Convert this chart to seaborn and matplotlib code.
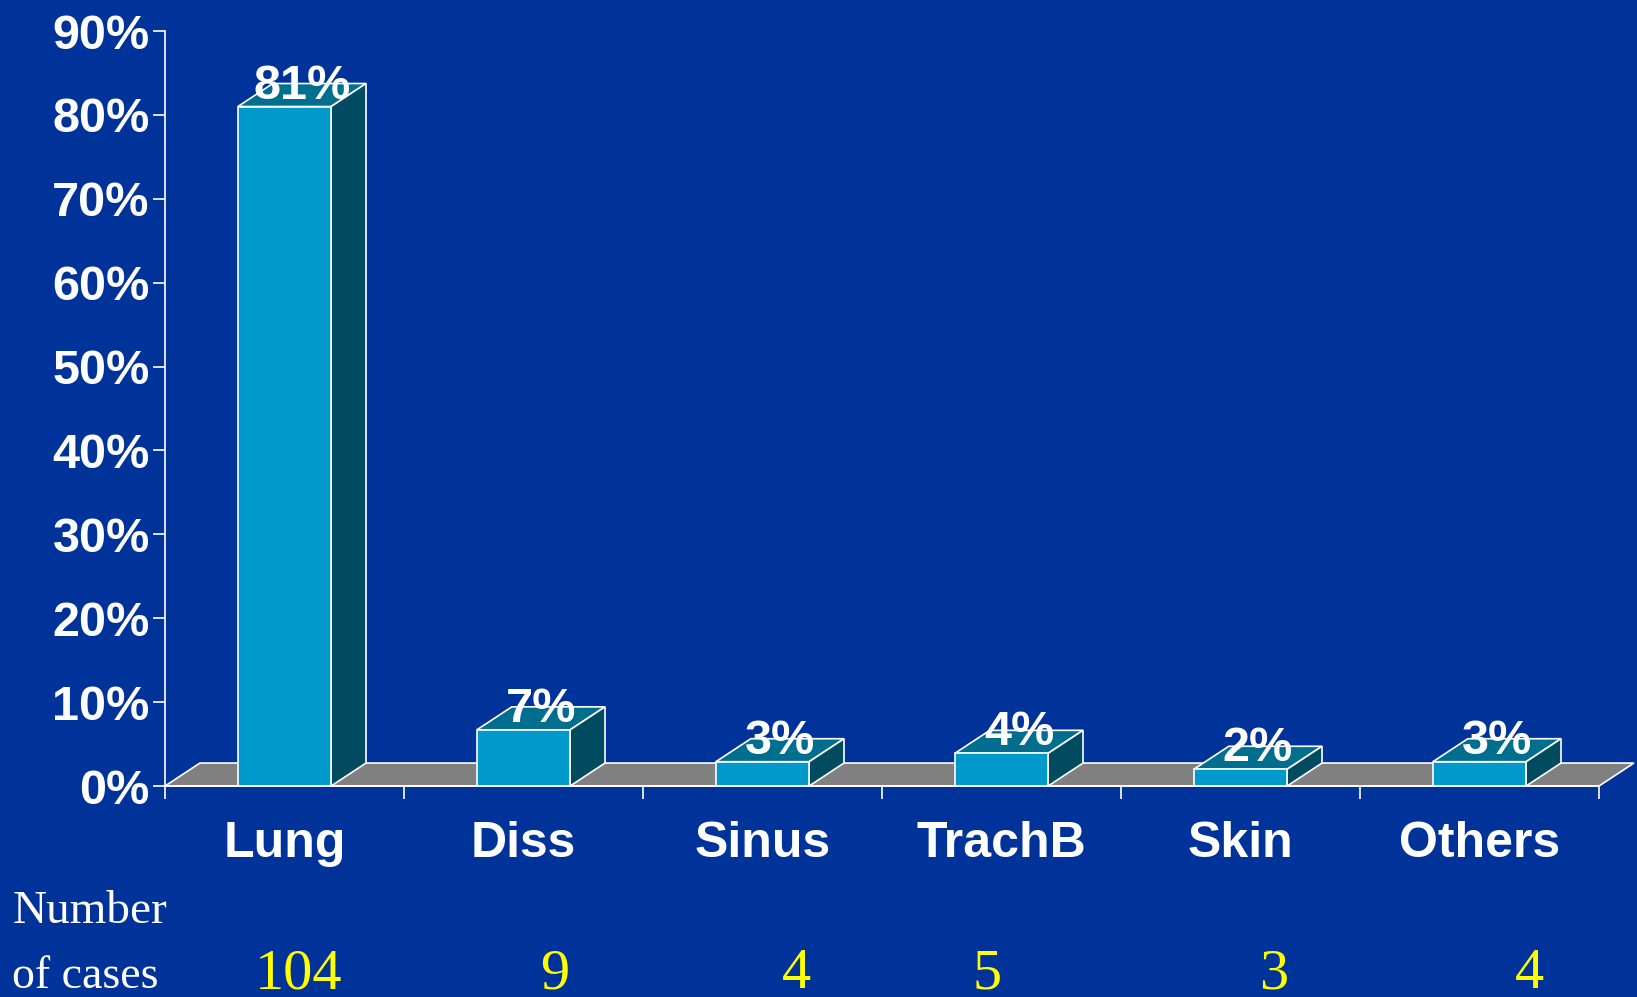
import numpy as np
import pandas as pd
import seaborn as sns
import matplotlib.pyplot as plt
from matplotlib.patches import Polygon
from matplotlib.transforms import blended_transform_factory

# data
sites = ['Lung', 'Diss', 'Sinus', 'TrachB', 'Skin', 'Others']
percent = [81.0, 6.7, 2.9, 3.9, 2.0, 2.9]
percent_labels = ['81%', '7%', '3%', '4%', '2%', '3%']
n_cases = ['104', '9', '4', '5', '3', '4']
yticks = [0, 10, 20, 30, 40, 50, 60, 70, 80, 90]

# layout / style
BG = '#00339a'
FRONT = '#0099cc'
TOP = '#006e8f'
SIDE = '#004b60'
FLOOR = '#808080'
DX, DY = 0.146, 2.74          # fake 3d depth, in data units
count_shift = [0.06, 0.13, 0.14, -0.06, 0.14, 0.21]

sns.set_theme(style='white')
plt.rcParams['font.family'] = ['Liberation Sans', 'DejaVu Sans']

fig = plt.figure(figsize=(16.37, 9.97), dpi=100, facecolor=BG)
ax = fig.add_axes([0.1008, 0.2116, 0.876, 0.7573])
ax.set_facecolor('none')

df = pd.DataFrame({'site': sites, 'pct': percent})
sns.barplot(data=df, x='site', y='pct', color=FRONT, saturation=1,
            width=0.39, edgecolor='white', linewidth=1.2, ax=ax, zorder=5)

# floor
floor = Polygon([(-0.5, 0), (5.5, 0), (5.5 + DX, DY), (-0.5 + DX, DY)],
                closed=True, facecolor=FLOOR, edgecolor='white', lw=1.2,
                zorder=1, clip_on=False)
ax.add_patch(floor)

# top and side faces for each bar
for p, lab in zip(ax.patches[:len(sites)], percent_labels):
    x0 = p.get_x()
    x1 = x0 + p.get_width()
    h = p.get_height()
    top = Polygon([(x0, h), (x1, h), (x1 + DX, h + DY), (x0 + DX, h + DY)],
                  closed=True, facecolor=TOP, edgecolor='white', lw=1.2,
                  zorder=4, clip_on=False)
    side = Polygon([(x1, 0), (x1 + DX, DY), (x1 + DX, h + DY), (x1, h)],
                   closed=True, facecolor=SIDE, edgecolor='white', lw=1.2,
                   zorder=4, clip_on=False)
    ax.add_patch(top)
    ax.add_patch(side)
    ax.annotate(lab, xy=((x0 + x1) / 2 + DX / 2, h), xytext=(0, 8),
                textcoords='offset pixels', ha='center', va='baseline',
                color='white', fontsize=35, fontweight='bold', zorder=10)

ax.set_xlim(-0.5, 5.5)
ax.set_ylim(0, 90)
ax.set_yticks(yticks)
ax.set_yticklabels([f'{t}%' for t in yticks])
ax.set_xlabel('')
ax.set_ylabel('')

ax.set_xticks(range(len(sites)))
ax.set_xticklabels(sites)
ax.set_xticks(np.arange(-0.5, 6, 1), minor=True)
ax.tick_params(axis='x', which='major', length=0, pad=25, colors='white',
               labelsize=36)
ax.tick_params(axis='x', which='minor', length=9, width=1.2, color='white',
               direction='out', bottom=True)
ax.tick_params(axis='y', length=9, width=1.2, color='white', pad=2,
               labelcolor='white', labelsize=35, left=True)
for t in ax.get_xticklabels() + ax.get_yticklabels():
    t.set_fontweight('bold')

for s in ['top', 'right']:
    ax.spines[s].set_visible(False)
for s in ['left', 'bottom']:
    ax.spines[s].set_color('white')
    ax.spines[s].set_linewidth(1.2)
    ax.spines[s].set_zorder(6)

# number of cases row
serif = ['Liberation Serif', 'DejaVu Serif']
fig.text(0.0075, 0.074, 'Number', family=serif, color='white', fontsize=34,
         va='baseline', ha='left')
fig.text(0.0075, 0.009, 'of cases', family=serif, color='white', fontsize=33,
         va='baseline', ha='left')
trans = blended_transform_factory(ax.transData, fig.transFigure)
for i, (n, sh) in enumerate(zip(n_cases, count_shift)):
    ax.text(i + sh, 0.009, n, transform=trans, family=serif, color='#ffff00',
            fontsize=42, ha='center', va='baseline', clip_on=False)

fig.savefig('out.png', dpi=100, facecolor=BG)
